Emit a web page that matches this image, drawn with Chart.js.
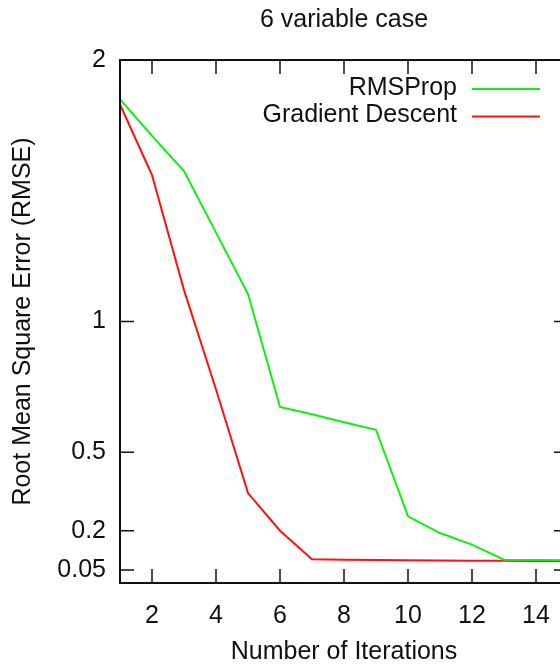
<!DOCTYPE html>
<html>
<head>
<meta charset="utf-8">
<script src="https://cdn.jsdelivr.net/npm/chart.js@4/dist/chart.umd.min.js"></script>
<style>
  html, body { margin: 0; padding: 0; background: #fff; overflow: hidden; }
  #wrap { position: relative; width: 640px; height: 668px; }
</style>
</head>
<body>
<div id="wrap"><canvas id="chart"></canvas></div>
<script>
// values
const chartTitle = "6 variable case";
const iterations = [1, 2, 3, 4, 5, 6, 7, 8, 9, 10, 11, 12, 13, 14, 15];
const rmsprop = [1.85, 1.71, 1.575, 1.34, 1.105, 0.673, 0.645, 0.615, 0.586, 0.255, 0.191, 0.147, 0.089, 0.088, 0.087];
const gradDescent = [1.83, 1.56, 1.12, 0.74, 0.344, 0.2, 0.091, 0.089, 0.088, 0.087, 0.086, 0.085, 0.085, 0.084, 0.083];
const xTicks = [2, 4, 6, 8, 10, 12, 14];
const yTicks = [0.05, 0.2, 0.5, 1, 2];

const FONT = "'Liberation Sans', Arial, sans-serif";
const FSIZE = 25;
const INK = "#111";

function toPoints(ys) {
    return ys.map((y, i) => ({ x: iterations[i], y: y }));
}

// frame, inward ticks on all four sides, title and legend
const gnuFrame = {
    id: "gnuFrame",
    afterDatasetsDraw(chart) {
        const ctx = chart.ctx;
        const a = chart.chartArea;
        const xs = chart.scales.x, ys = chart.scales.y;
        const tl = 14;
        ctx.save();
        ctx.strokeStyle = INK;
        ctx.lineWidth = 1.5;
        ctx.beginPath();
        xTicks.forEach(v => {
            const px = xs.getPixelForValue(v);
            ctx.moveTo(px, a.bottom); ctx.lineTo(px, a.bottom - tl);
            ctx.moveTo(px, a.top); ctx.lineTo(px, a.top + tl);
        });
        yTicks.forEach(v => {
            const py = ys.getPixelForValue(v);
            ctx.moveTo(a.left, py); ctx.lineTo(a.left + tl, py);
            ctx.moveTo(a.right, py); ctx.lineTo(a.right - tl, py);
        });
        ctx.stroke();
        ctx.lineWidth = 2;
        ctx.strokeRect(a.left, a.top, a.right - a.left, a.bottom - a.top);

        ctx.fillStyle = INK;
        ctx.font = FSIZE + "px " + FONT;
        ctx.textAlign = "center";
        ctx.textBaseline = "middle";
        ctx.fillText(chartTitle, (a.left + a.right) / 2, 20);

        // legend: text right aligned, then a line sample
        ctx.textAlign = "right";
        chart.data.datasets.forEach((ds, i) => {
            const y = 89 + i * 27.4;
            ctx.fillStyle = INK;
            ctx.fillText(ds.label, 457, y - 1);
            ctx.strokeStyle = ds.borderColor;
            ctx.lineWidth = 2;
            ctx.beginPath();
            ctx.moveTo(472, y); ctx.lineTo(540, y);
            ctx.stroke();
        });
        ctx.restore();
    }
};

const ctx = document.getElementById("chart").getContext("2d");
const chart = new Chart(ctx, {
    type: "line",
    data: {
        datasets: [
            {
                label: "RMSProp",
                data: toPoints(rmsprop),
                borderColor: "#11ee11",
                borderWidth: 2,
                pointRadius: 0,
                fill: false,
                tension: 0
            },
            {
                label: "Gradient Descent",
                data: toPoints(gradDescent),
                borderColor: "#ff1111",
                borderWidth: 2,
                pointRadius: 0,
                fill: false,
                tension: 0
            }
        ]
    },
    options: {
        responsive: true,
        maintainAspectRatio: false,
        animation: false,
        layout: { padding: { top: 60, right: 72, left: 0, bottom: 0 } },
        plugins: {
            legend: { display: false },
            title: { display: false },
            tooltip: { enabled: false }
        },
        scales: {
            x: {
                type: "linear",
                min: 1,
                max: 15,
                afterBuildTicks: s => { s.ticks = xTicks.map(v => ({ value: v })); },
                afterFit: s => { s.height = 85; },
                grid: { display: false, drawTicks: false },
                border: { display: false },
                ticks: {
                    padding: 18,
                    color: INK,
                    font: { family: FONT, size: FSIZE },
                    maxRotation: 0
                },
                title: {
                    display: true,
                    text: "Number of Iterations",
                    color: INK,
                    font: { family: FONT, size: FSIZE },
                    padding: { top: 0, bottom: 1 }
                }
            },
            y: {
                type: "linear",
                min: 0,
                max: 2,
                afterBuildTicks: s => { s.ticks = yTicks.map(v => ({ value: v })); },
                afterFit: s => { s.width = 120; },
                grid: { display: false, drawTicks: false },
                border: { display: false },
                ticks: {
                    padding: 14,
                    color: INK,
                    font: { family: FONT, size: FSIZE },
                    callback: v => String(v)
                },
                title: {
                    display: true,
                    text: "Root Mean Square Error (RMSE)",
                    color: INK,
                    font: { family: FONT, size: FSIZE },
                    padding: { top: 8, bottom: 0 }
                }
            }
        }
    },
    plugins: [gnuFrame]
});
</script>
</body>
</html>
